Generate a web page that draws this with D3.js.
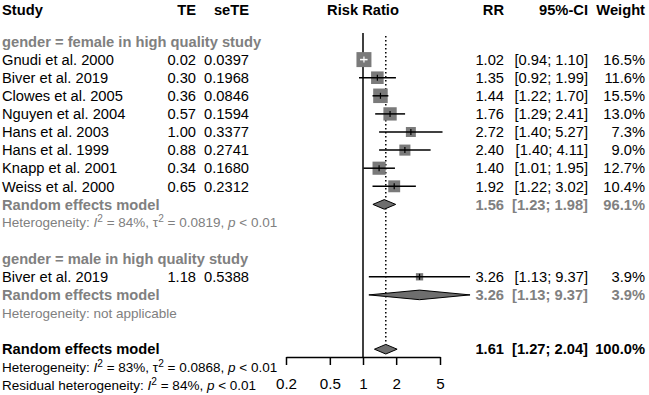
<!DOCTYPE html>
<html><head><meta charset="utf-8">
<script src="https://cdn.jsdelivr.net/npm/d3@7"></script>
<style>
body{margin:0;background:#fff;}
text{font-family:"Liberation Sans",Arial,Helvetica,sans-serif;}
</style></head>
<body><svg id="c" width="649" height="395"></svg>
<script>
const studies = ["Gnudi et al. 2000","Biver et al. 2019","Clowes et al. 2005","Nguyen et al. 2004","Hans et al. 2003","Hans et al. 1999","Knapp et al. 2001","Weiss et al. 2000"];
const te = ["0.02","0.30","0.36","0.57","1.00","0.88","0.34","0.65"];
const seTE = ["0.0397","0.1968","0.0846","0.1594","0.3377","0.2741","0.1680","0.2312"];
const rr = [1.02,1.35,1.44,1.76,2.72,2.40,1.40,1.92];
const lower = [0.94,0.92,1.22,1.29,1.40,1.40,1.01,1.22];
const upper = [1.10,1.99,1.70,2.41,5.27,4.11,1.95,3.02];
const weight = [16.5,11.6,15.5,13.0,7.3,9.0,12.7,10.4];

const maleStudies = ["Biver et al. 2019"];
const maleTe = ["1.18"]; const maleSe = ["0.5388"];
const maleRR = [3.26]; const maleLower = [1.13]; const maleUpper = [9.37]; const maleWeight = [3.9];

const reFemale = {rr:1.56, lo:1.23, hi:1.98, w:96.1};
const reMale = {rr:3.26, lo:1.13, hi:9.37, w:3.9};
const reAll = {rr:1.61, lo:1.27, hi:2.04, w:100.0};

const groupLabels = ["gender = female in high quality study","gender = male in high quality study"];
const headers = ["Study","TE","seTE","Risk Ratio","RR","95%-CI","Weight"];
const tickVals = [0.2,0.5,1,2,5];

const svg = d3.select("#c");
const x = d3.scaleLog().domain([0.2,5]).range([286,440]);
const rowY = i => 41.5 + 18.1*i;
const GRAY = "#808080";
const FS = 14.7;
const col = {study:2, te:196, se:249, rr:504, ci:588, w:645};
const f2 = d => d.toFixed(2);
const ciTxt = (l,h) => "[" + f2(l) + "; " + f2(h) + "]";

function txt(xp, yp, s, opt={}) {
  return svg.append("text").attr("x", xp).attr("y", yp).attr("dy","0.36em")
    .attr("font-size", opt.size||FS).attr("font-weight", opt.bold?"bold":"normal")
    .attr("fill", opt.color||"#000").attr("text-anchor", opt.anchor||"start").text(s);
}

// headers
const hy = 10;
txt(col.study,hy,headers[0],{bold:true});
txt(col.te,hy,headers[1],{bold:true,anchor:"end"});
txt(col.se,hy,headers[2],{bold:true,anchor:"end"});
txt(363,hy,headers[3],{bold:true,anchor:"middle"});
txt(col.rr,hy,headers[4],{bold:true,anchor:"end"});
txt(col.ci,hy,headers[5],{bold:true,anchor:"end"});
txt(col.w,hy,headers[6],{bold:true,anchor:"end"});

// reference lines
svg.append("line").attr("x1",x(1)).attr("x2",x(1)).attr("y1",33).attr("y2",357)
  .attr("stroke","#000").attr("stroke-width",1.5);
svg.append("line").attr("x1",x(reAll.rr)).attr("x2",x(reAll.rr)).attr("y1",36).attr("y2",rowY(17)-5)
  .attr("stroke","#000").attr("stroke-width",1.5).attr("stroke-dasharray","1.5,2.5");

function studyRow(i, name, t, s, r, l, h, w) {
  const y = rowY(i);
  txt(col.study,y,name);
  txt(col.te,y,t,{anchor:"end"});
  txt(col.se,y,s,{anchor:"end"});
  txt(col.rr,y,f2(r),{anchor:"end"});
  txt(col.ci,y,ciTxt(l,h),{anchor:"end"});
  txt(col.w,y,w.toFixed(1)+"%",{anchor:"end"});
  const side = 3.69*Math.sqrt(w);
  svg.append("rect").attr("x",x(r)-side/2).attr("y",y-side/2).attr("width",side).attr("height",side)
    .attr("fill","#7a7a7a");
  const inside = (x(r)-x(l) < side/2) && (x(h)-x(r) < side/2);
  const lc = inside ? "#fff" : "#000";
  svg.append("line").attr("x1",x(l)).attr("x2",x(h)).attr("y1",y).attr("y2",y)
    .attr("stroke",lc).attr("stroke-width",1.5);
  svg.append("line").attr("x1",x(r)).attr("x2",x(r)).attr("y1",y-3).attr("y2",y+3)
    .attr("stroke",lc).attr("stroke-width",1.2);
}

function diamondRow(i, label, m, opt) {
  const y = rowY(i);
  txt(col.study,y,label,{bold:true,color:opt.color});
  txt(col.rr,y,f2(m.rr),{anchor:"end",bold:true,color:opt.color});
  txt(col.ci,y,ciTxt(m.lo,m.hi),{anchor:"end",bold:true,color:opt.color});
  txt(col.w,y,m.w.toFixed(1)+"%",{anchor:"end",bold:true,color:opt.color});
  const hh = 4.8;
  const pts = [[x(m.lo),y],[x(m.rr),y-hh],[x(m.hi),y],[x(m.rr),y+hh]];
  svg.append("path").attr("d","M"+pts.map(p=>p.join(",")).join("L")+"Z")
    .attr("fill","#6e6e6e").attr("stroke","#000").attr("stroke-width",1);
}

function hetText(i, parts, opt) {
  const t = svg.append("text").attr("x",col.study).attr("y",rowY(i)).attr("dy","0.36em")
    .attr("font-size",opt.size).attr("fill",opt.color);
  parts.forEach(p => {
    const ts = t.append("tspan").text(p.t);
    if (p.it) ts.attr("font-style","italic");
    if (p.sup) ts.attr("baseline-shift","super").attr("font-size",opt.size*0.75);
  });
}

// female group
txt(col.study,rowY(0),groupLabels[0],{bold:true,color:GRAY});
studies.forEach((s,k)=>studyRow(k+1,s,te[k],seTE[k],rr[k],lower[k],upper[k],weight[k]));
diamondRow(9,"Random effects model",reFemale,{color:GRAY});
hetText(10,[{t:"Heterogeneity: "},{t:"I",it:true},{t:"2",sup:true},{t:" = 84%, τ"},{t:"2",sup:true},{t:" = 0.0819, "},{t:"p",it:true},{t:" < 0.01"}],{size:13.5,color:GRAY});

// male group
txt(col.study,rowY(12),groupLabels[1],{bold:true,color:GRAY});
maleStudies.forEach((s,k)=>studyRow(13+k,s,maleTe[k],maleSe[k],maleRR[k],maleLower[k],maleUpper[k],maleWeight[k]));
diamondRow(14,"Random effects model",reMale,{color:GRAY});
hetText(15,[{t:"Heterogeneity: not applicable"}],{size:13.5,color:GRAY});

// overall
diamondRow(17,"Random effects model",reAll,{color:"#000"});
hetText(18,[{t:"Heterogeneity: "},{t:"I",it:true},{t:"2",sup:true},{t:" = 83%, τ"},{t:"2",sup:true},{t:" = 0.0868, "},{t:"p",it:true},{t:" < 0.01"}],{size:13.5,color:"#000"});
hetText(19,[{t:"Residual heterogeneity: "},{t:"I",it:true},{t:"2",sup:true},{t:" = 84%, "},{t:"p",it:true},{t:" < 0.01"}],{size:13.5,color:"#000"});

// axis
const ax = svg.append("g").attr("transform","translate(0,357)")
  .call(d3.axisBottom(x).tickValues(tickVals).tickFormat(d=>String(d)).tickSize(8).tickSizeOuter(0).tickPadding(13));
ax.selectAll("path,line").attr("stroke","#000").attr("stroke-width",1.5);
ax.selectAll("text").attr("font-size",FS+0.5).attr("fill","#000")
  .attr("font-family","'Liberation Sans',Arial,sans-serif");
</script></body></html>
